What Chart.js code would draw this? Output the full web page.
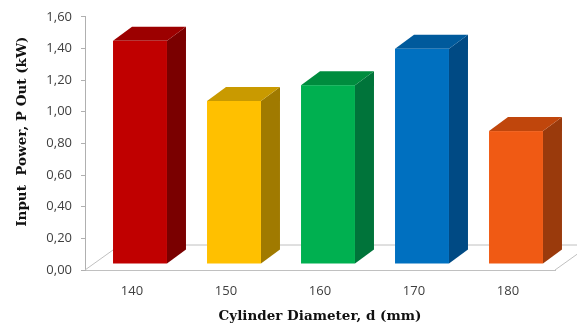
<!DOCTYPE html>
<html>
<head>
<meta charset="utf-8">
<script src="https://cdn.jsdelivr.net/npm/chart.js@4.4.0/dist/chart.umd.min.js"></script>
<style>
  html, body { margin: 0; padding: 0; background: #ffffff; }
  #wrap { width: 577px; height: 327px; position: relative; }
</style>
</head>
<body>
<div id="wrap"><canvas id="chart"></canvas></div>
<script>
// Cylinder diameter (mm) and measured input power (kW)
const diameters = ['140', '150', '160', '170', '180'];
const inputPower = [1.41, 1.03, 1.13, 1.36, 0.84];
const yTickValues = [0, 0.2, 0.4, 0.6, 0.8, 1.0, 1.2, 1.4, 1.6];

// Face shades for each column: front, top, side
const frontColors = ['#c00000', '#ffc000', '#00b050', '#0070c0', '#f05a14'];
const topColors   = ['#9c0000', '#c99a00', '#008c3e', '#005a9c', '#c0460c'];
const sideColors  = ['#7a0000', '#a07a00', '#00743a', '#004a84', '#9a3a0c'];

const FLOOR_DX = 35, FLOOR_DY = 25;   // floor depth
const BAR_DX = 8, BAR_DY = 6;         // column sits mid-floor
const DEPTH_DX = 19, DEPTH_DY = 14;   // column depth

const floorAndColumns = {
  id: 'floorAndColumns',
  beforeDatasetsDraw(chart) {
    const { ctx, chartArea: a } = chart;
    ctx.save();
    ctx.strokeStyle = '#c0c0c0';
    ctx.lineWidth = 1;
    ctx.beginPath();
    ctx.moveTo(a.left, a.bottom);
    ctx.lineTo(a.left + FLOOR_DX, a.bottom - FLOOR_DY);
    ctx.lineTo(a.right + FLOOR_DX, a.bottom - FLOOR_DY);
    ctx.moveTo(a.right, a.bottom);
    ctx.lineTo(a.right + FLOOR_DX, a.bottom - FLOOR_DY);
    ctx.stroke();
    ctx.restore();
  },
  afterDatasetsDraw(chart) {
    const { ctx } = chart;
    const meta = chart.getDatasetMeta(0);
    ctx.save();
    meta.data.forEach((bar, i) => {
      const p = bar.getProps(['x', 'y', 'base', 'width'], true);
      const l = p.x - p.width / 2 + BAR_DX;
      const r = p.x + p.width / 2 + BAR_DX;
      const t = p.y - BAR_DY;
      const b = p.base - BAR_DY;
      // side face
      ctx.fillStyle = sideColors[i];
      ctx.beginPath();
      ctx.moveTo(r, t);
      ctx.lineTo(r + DEPTH_DX, t - DEPTH_DY);
      ctx.lineTo(r + DEPTH_DX, b - DEPTH_DY);
      ctx.lineTo(r, b);
      ctx.closePath();
      ctx.fill();
      // top face
      ctx.fillStyle = topColors[i];
      ctx.beginPath();
      ctx.moveTo(l, t);
      ctx.lineTo(l + DEPTH_DX, t - DEPTH_DY);
      ctx.lineTo(r + DEPTH_DX, t - DEPTH_DY);
      ctx.lineTo(r, t);
      ctx.closePath();
      ctx.fill();
      // front face
      ctx.fillStyle = frontColors[i];
      ctx.fillRect(l, t, r - l, b - t);
    });
    ctx.restore();
  }
};

const fmt = v => v.toFixed(2).replace('.', ',');

new Chart(document.getElementById('chart'), {
  type: 'bar',
  data: {
    labels: diameters,
    datasets: [{
      data: inputPower,
      backgroundColor: 'rgba(0,0,0,0)',
      borderWidth: 0,
      categoryPercentage: 1,
      barPercentage: 0.574
    }]
  },
  options: {
    responsive: true,
    maintainAspectRatio: false,
    animation: false,
    layout: { padding: { left: 0, top: 15, right: 22, bottom: 0 } },
    plugins: { legend: { display: false }, tooltip: { enabled: false } },
    scales: {
      x: {
        grid: { display: true, drawOnChartArea: false, drawTicks: false },
        border: { display: true, color: '#c0c0c0', width: 1 },
        ticks: {
          color: '#404040',
          padding: 13,
          font: { family: 'Open Sans', size: 13 }
        },
        title: {
          display: true,
          text: 'Cylinder Diameter, d (mm)',
          color: '#111111',
          font: { family: 'DejaVu Serif', size: 13.5, weight: 'bold' },
          padding: { top: 0, bottom: 2 }
        },
        afterFit(scale) { scale.height = 57; }
      },
      y: {
        min: 0,
        max: 1.6,
        afterBuildTicks(scale) { scale.ticks = yTickValues.map(v => ({ value: v })); },
        grid: { display: true, drawOnChartArea: false, drawTicks: true, tickLength: 4, color: '#b0b0b0' },
        border: { display: true, color: '#b0b0b0', width: 1 },
        ticks: {
          color: '#404040',
          padding: 9,
          font: { family: 'Open Sans', size: 13 },
          callback: v => fmt(v)
        },
        title: {
          display: true,
          text: '     Input  Power, P Out (kW)',
          color: '#111111',
          font: { family: 'DejaVu Serif', size: 13.5, weight: 'bold' },
          padding: { top: 14, bottom: 0 }
        },
        afterFit(scale) { scale.width = 85; }
      }
    }
  },
  plugins: [floorAndColumns]
});
</script>
</body>
</html>
